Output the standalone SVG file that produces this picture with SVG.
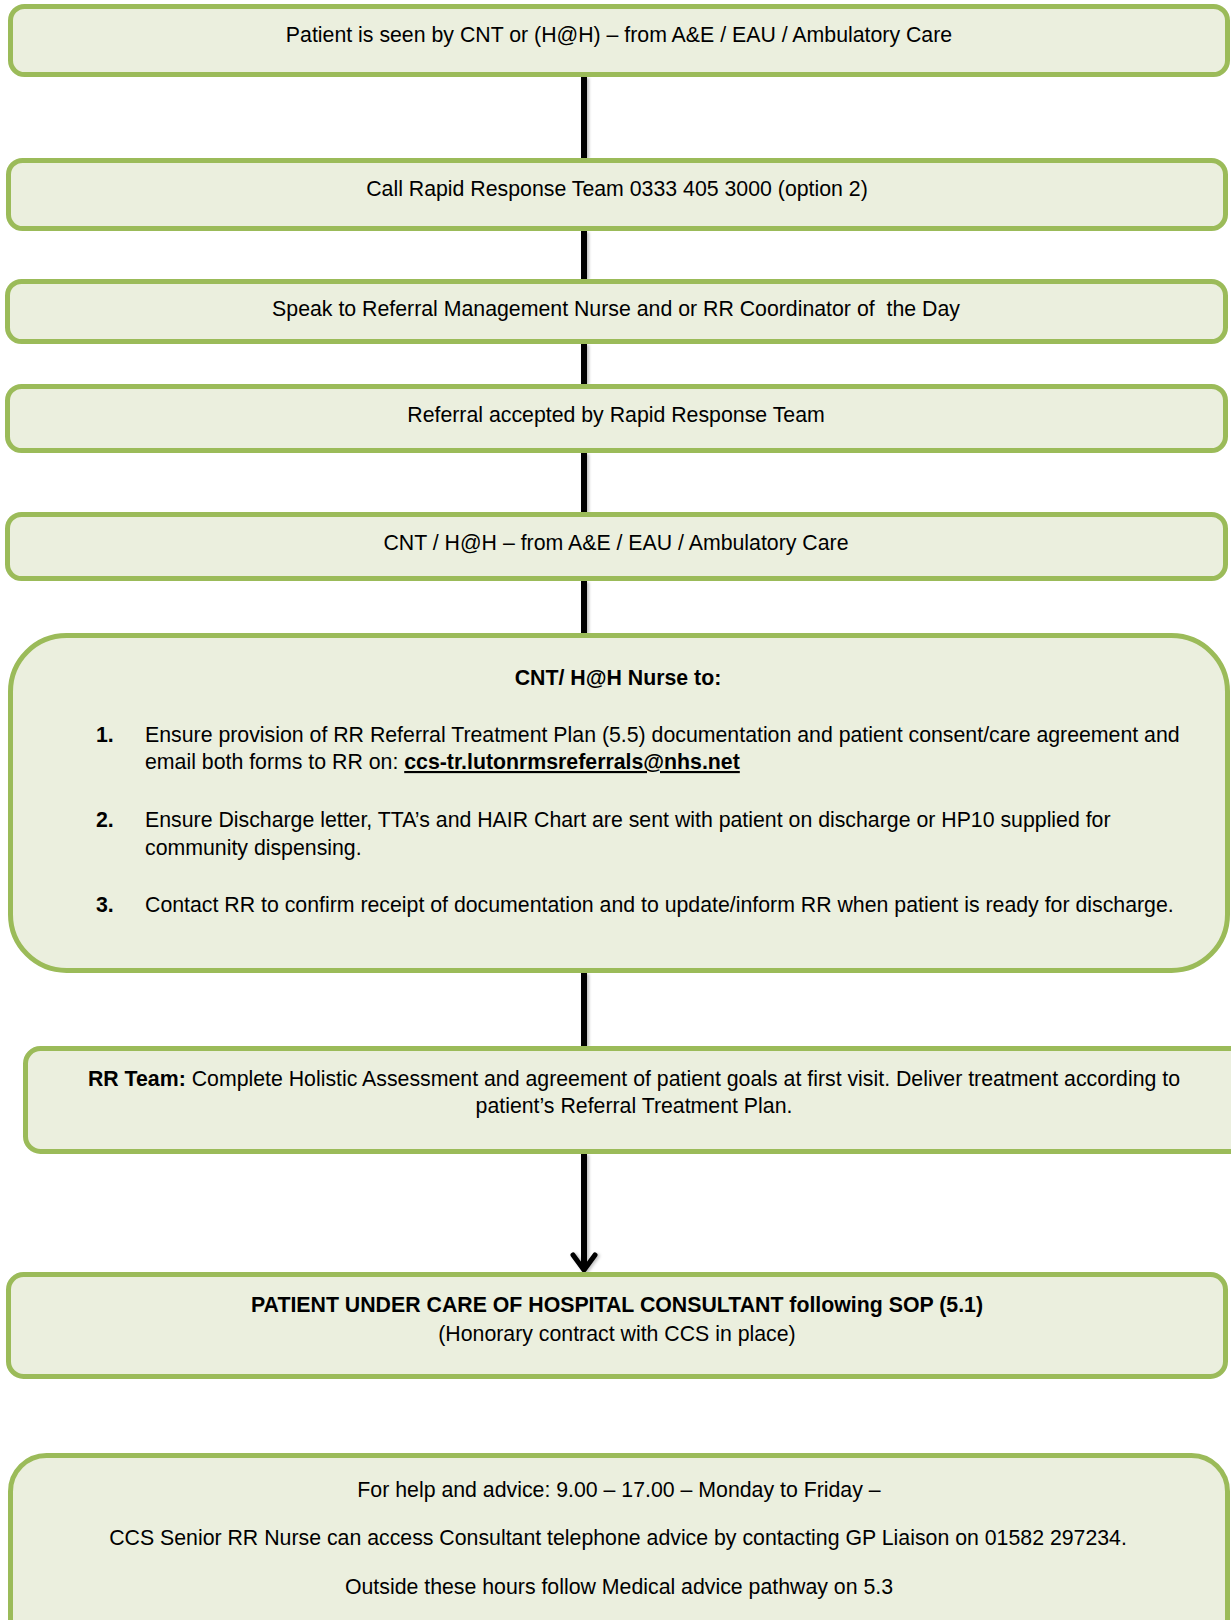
<svg xmlns="http://www.w3.org/2000/svg" width="1231" height="1620" viewBox="0 0 1231 1620">
  <style>
    .box { fill: #EBEFDE; stroke: #9BBB59; stroke-width: 5; }
    .t { font-family: "Liberation Sans", Arial, sans-serif; font-size: 21.3px; fill: #000; }
    .c { text-anchor: middle; }
    .b { font-weight: bold; }
    .link { stroke: #000; stroke-width: 6; fill: none; }
  </style>
  <defs>
    <!-- soft shadow for connector lines; user-space region because the lines have zero-width boxes -->
    <filter id="soft" filterUnits="userSpaceOnUse" x="0" y="0" width="1231" height="1620">
      <feDropShadow dx="2" dy="1" stdDeviation="1.5" flood-color="#000" flood-opacity="0.25"/>
    </filter>
    <!-- open chevron head, drawn pointing along +x so orient="auto" follows the line -->
    <marker id="chevron" markerUnits="userSpaceOnUse" markerWidth="26" markerHeight="32" refX="19" refY="16" orient="auto" viewBox="0 0 26 32">
      <path d="M5,5 L20,16 L5,27" fill="none" stroke="#000" stroke-width="5" stroke-linecap="round" stroke-linejoin="round"/>
    </marker>
  </defs>

  <!-- connectors -->
  <g id="connectors" filter="url(#soft)">
    <path class="link" d="M584,77 V158"/>
    <path class="link" d="M584,231 V279"/>
    <path class="link" d="M584,344 V384"/>
    <path class="link" d="M584,453 V512"/>
    <path class="link" d="M584,581 V633"/>
    <path class="link" d="M584,973 V1046"/>
    <path class="link" d="M584,1154 V1269" marker-end="url(#chevron)"/>
  </g>

  <g id="seen">
    <rect class="box" x="10.5" y="6.5" width="1217" height="68" rx="14"/>
    <text class="t c" x="619" y="42">Patient is seen by CNT or (H@H) – from A&amp;E / EAU / Ambulatory Care</text>
  </g>

  <g id="call">
    <rect class="box" x="8.5" y="160.5" width="1217" height="68" rx="14"/>
    <text class="t c" x="617" y="196">Call Rapid Response Team 0333 405 3000 (option 2)</text>
  </g>

  <g id="speak">
    <rect class="box" x="7.5" y="281.5" width="1218" height="60" rx="14"/>
    <text class="t c" x="616" y="316" xml:space="preserve">Speak to Referral Management Nurse and or RR Coordinator of  the Day</text>
  </g>

  <g id="accepted">
    <rect class="box" x="7.5" y="386.5" width="1218" height="64" rx="14"/>
    <text class="t c" x="616" y="422">Referral accepted by Rapid Response Team</text>
  </g>

  <g id="cnt">
    <rect class="box" x="7.5" y="514.5" width="1218" height="64" rx="14"/>
    <text class="t c" x="616" y="550">CNT / H@H – from A&amp;E / EAU / Ambulatory Care</text>
  </g>

  <g id="nurse-tasks">
    <rect class="box" x="10.5" y="635.5" width="1217" height="335" rx="56"/>
    <text class="t c b" x="618" y="685">CNT/ H@H Nurse to:</text>
    <text class="t b" x="96" y="742">1.</text>
    <text class="t" x="145" y="742">Ensure provision of RR Referral Treatment Plan (5.5) documentation and patient consent/care agreement and</text>
    <text class="t" x="145" y="769">email both forms to RR on: <tspan class="b" text-decoration="underline">ccs-tr.lutonrmsreferrals@nhs.net</tspan></text>
    <text class="t b" x="96" y="827">2.</text>
    <text class="t" x="145" y="827">Ensure Discharge letter, TTA’s and HAIR Chart are sent with patient on discharge or HP10 supplied for</text>
    <text class="t" x="145" y="855">community dispensing.</text>
    <text class="t b" x="96" y="912">3.</text>
    <text class="t" x="145" y="912">Contact RR to confirm receipt of documentation and to update/inform RR when patient is ready for discharge.</text>
  </g>

  <g id="rr-team">
    <rect class="box" x="25.5" y="1048.5" width="1230" height="103" rx="15"/>
    <text class="t c" x="634" y="1086"><tspan class="b">RR Team:</tspan> Complete Holistic Assessment and agreement of patient goals at first visit. Deliver treatment according to</text>
    <text class="t c" x="634" y="1113">patient’s Referral Treatment Plan.</text>
  </g>

  <g id="consultant">
    <rect class="box" x="8.5" y="1274.5" width="1217" height="102" rx="15"/>
    <text class="t c b" x="617" y="1312">PATIENT UNDER CARE OF HOSPITAL CONSULTANT following SOP (5.1)</text>
    <text class="t c" x="617" y="1341">(Honorary contract with CCS in place)</text>
  </g>

  <g id="advice">
    <rect class="box" x="10.5" y="1455.5" width="1217" height="200" rx="36"/>
    <text class="t c" x="619" y="1497">For help and advice: 9.00 – 17.00 – Monday to Friday –</text>
    <text class="t c" x="618" y="1545">CCS Senior RR Nurse can access Consultant telephone advice by contacting GP Liaison on 01582 297234.</text>
    <text class="t c" x="619" y="1594">Outside these hours follow Medical advice pathway on 5.3</text>
  </g>
</svg>
